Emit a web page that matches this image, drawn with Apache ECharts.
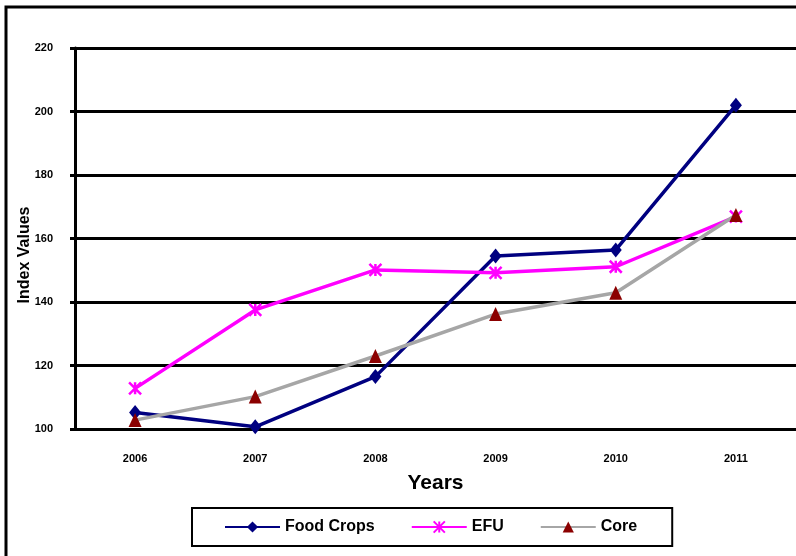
<!DOCTYPE html>
<html>
<head>
<meta charset="utf-8">
<script src="https://cdn.jsdelivr.net/npm/echarts@6/dist/echarts.min.js"></script>
<style>
html,body{margin:0;padding:0;background:#fff;}
#chart{width:796px;height:556px;}
</style>
</head>
<body>
<div id="chart"></div>
<script>
var years = ['2006', '2007', '2008', '2009', '2010', '2011'];
var foodCrops = [105.2, 100.7, 116.5, 154.5, 156.4, 202];
var efu = [112.8, 137.5, 150.1, 149.2, 151.1, 166.9];
var core = [102.8, 110.2, 123, 136.2, 142.9, 167.4];
var yTicks = [100, 120, 140, 160, 180, 200, 220];

var FONT = '"Liberation Sans", Arial, sans-serif';
var asterisk = 'path://M0,0 L10,10 M10,0 L0,10 M5,0 L5,10';

var chart = echarts.init(document.getElementById('chart'));
chart.setOption({
  animation: false,
  backgroundColor: '#fff',
  graphic: [
    { type: 'rect', shape: { x: 6, y: 7, width: 900, height: 700 },
      style: { fill: 'none', stroke: '#000', lineWidth: 3 }, silent: true, z: 100 },
    { type: 'text', x: 25, y: 255, rotation: Math.PI / 2,
      style: { text: 'Index Values', font: 'bold 16px ' + FONT, fill: '#000',
               textAlign: 'center', textVerticalAlign: 'middle' } }
  ],
  grid: { left: 75, right: -5, top: 48, bottom: 127, containLabel: false },
  legend: {
    left: 192, top: 508,
    padding: [11, 35, 11, 32],
    itemGap: 36,
    itemWidth: 55,
    itemHeight: 14,
    borderColor: '#000', borderWidth: 2,
    textStyle: { fontFamily: FONT, fontWeight: 'bold', fontSize: 16, color: '#000' },
    data: ['Food Crops', 'EFU', 'Core']
  },
  xAxis: {
    type: 'category',
    data: years,
    boundaryGap: true,
    name: 'Years',
    nameLocation: 'middle',
    nameGap: 44,
    nameTextStyle: { fontFamily: FONT, fontWeight: 'bold', fontSize: 21, color: '#000' },
    axisLine: { show: true, lineStyle: { color: '#000', width: 3 } },
    axisTick: { show: false },
    axisLabel: { margin: 24, fontFamily: FONT, fontWeight: 'bold', fontSize: 11, color: '#000' },
    splitLine: { show: false }
  },
  yAxis: {
    type: 'value',
    min: 100, max: 220, interval: 20,
    axisLine: { show: true, lineStyle: { color: '#000', width: 3 } },
    axisTick: { show: true, length: 5, inside: false, lineStyle: { color: '#000', width: 3 } },
    axisLabel: { margin: 22, fontFamily: FONT, fontWeight: 'bold', fontSize: 11, color: '#000',
                 formatter: function (v) { return yTicks.indexOf(v) >= 0 ? String(v) : ''; } },
    splitLine: { show: true, lineStyle: { color: '#000', width: 3 } }
  },
  series: [
    {
      name: 'Food Crops', type: 'line', data: foodCrops,
      symbol: 'diamond', symbolSize: [12, 15],
      lineStyle: { color: '#000080', width: 3.5 },
      itemStyle: { color: '#000080' }, z: 3
    },
    {
      name: 'EFU', type: 'line', data: efu,
      symbol: asterisk, symbolSize: 12,
      lineStyle: { color: '#FF00FF', width: 3.5 },
      itemStyle: { color: '#FF00FF', borderColor: '#FF00FF', borderWidth: 2.5 }, z: 4
    },
    {
      name: 'Core', type: 'line', data: core,
      symbol: 'triangle', symbolSize: [13, 14],
      lineStyle: { color: '#A6A6A6', width: 3.5 },
      itemStyle: { color: '#8B0000' }, z: 5
    }
  ]
});
</script>
</body>
</html>
